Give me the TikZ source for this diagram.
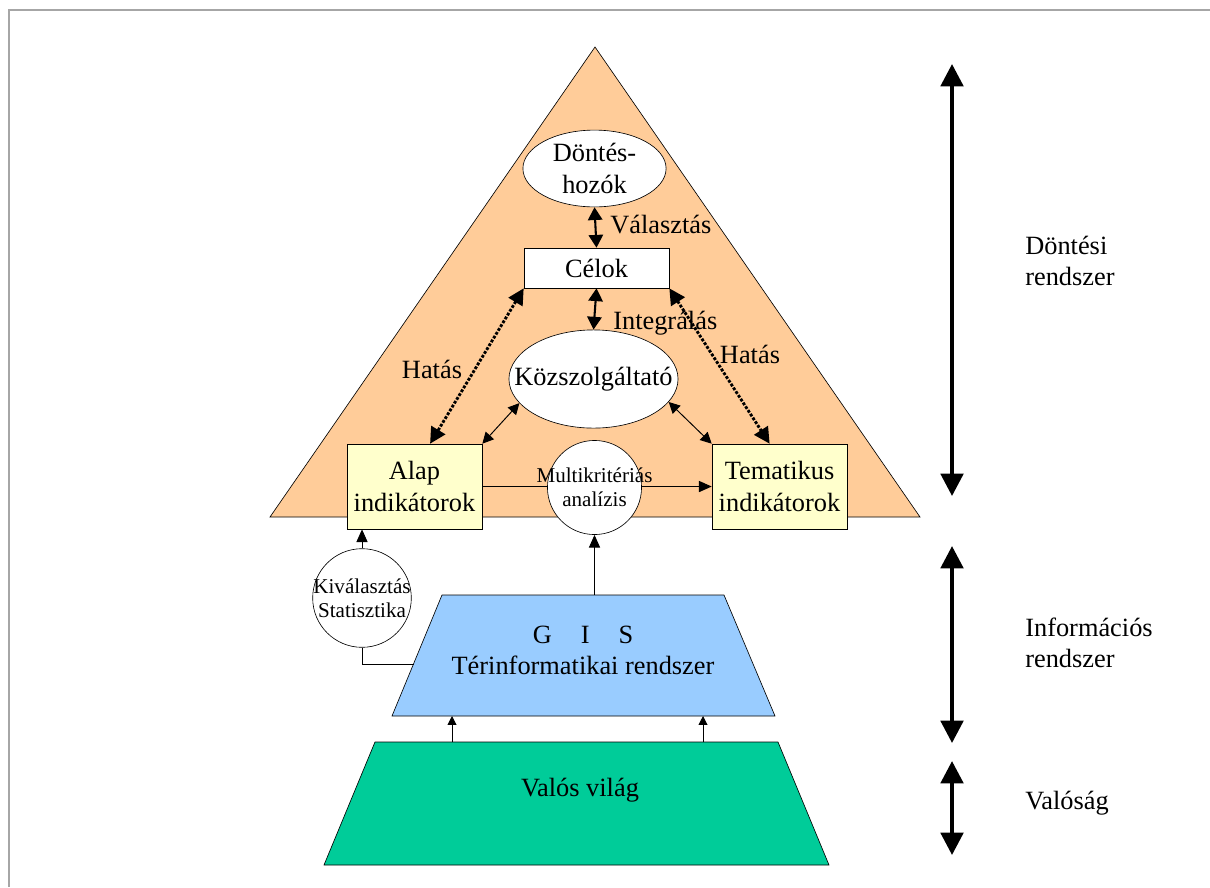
\documentclass[tikz,border=0pt]{standalone}
\usepackage{fontspec}
\setmainfont{Liberation Serif}
\usetikzlibrary{arrows.meta,shapes.geometric}
\definecolor{peach}{HTML}{FFCC99}
\definecolor{lightyellow}{HTML}{FFFFCC}
\definecolor{skyblue}{HTML}{99CCFF}
\definecolor{seagreen}{HTML}{00CC99}
\begin{document}
\begin{tikzpicture}[scale=0.22,
		every node/.style={inner sep=0pt, font=\fontsize{16.5}{19.5}\selectfont},
		smalltext/.style={font=\fontsize{13.2}{15.3}\selectfont},
		dbl/.style={{Triangle[width=9pt,length=8pt]}-{Triangle[width=9pt,length=8pt]}, line width=1.3pt},
		hatas/.style={{Triangle[width=10pt,length=10pt]}-{Triangle[width=10pt,length=10pt]}, line width=1.8pt, densely dotted},
		thin/.style={{Triangle[width=7pt,length=7pt]}-{Triangle[width=7pt,length=7pt]}, line width=0.6pt},
		up/.style={-{Triangle[width=7pt,length=8pt]}, line width=0.6pt},
		tiny/.style={-{Triangle[width=5.5pt,length=5.5pt]}, line width=0.6pt},
		thick/.style={{Triangle[width=14pt,length=14pt]}-{Triangle[width=14pt,length=14pt]}, line width=2.5pt}]
		\useasboundingbox (0,0) rectangle (121,-88.7);
		\draw [gray!70, line width=1.2pt] (0.9,-88.7) -- (0.9,-1.0) -- (121,-1.0);
		\draw [black, fill=peach] (27.0,-51.7) -- (59.5,-4.7) -- (92.0,-51.7) -- cycle;
		\node [ellipse, draw, fill=white, minimum width=3.15cm, minimum height=1.69cm, label={[align=center]center:Döntés-\\hozók}] (dontes) at (59.45,-16.85) {};
		\node [draw, fill=white, minimum width=3.19cm, minimum height=0.88cm] (celok) at (59.65,-26.8) {Célok};
		\node [ellipse, draw, fill=white, minimum width=3.72cm, minimum height=2.16cm, label={center:Közszolgáltató}] (kozszolg) at (59.35,-37.9) {};
		\node [draw, fill=lightyellow, minimum width=2.97cm, minimum height=1.87cm, align=center] (alap) at (41.45,-48.65) {Alap\\indikátorok};
		\node [draw, fill=lightyellow, minimum width=2.97cm, minimum height=1.87cm, align=center] (tema) at (77.95,-48.65) {Tematikus\\indikátorok};
		\draw [up] (alap.east) -- (tema.west);
		\node [circle, draw, fill=white, minimum size=2.07cm, label={[align=center, smalltext]center:Multikritériás\\analízis}] (multi) at (59.45,-48.75) {};
		\node [circle, draw, fill=white, minimum size=2.17cm, label={[align=center, smalltext]center:Kiválasztás\\Statisztika}] (kival) at (36.2,-59.8) {};
		\draw [dbl] (dontes.south) -- (celok.north);
		\draw (61.0,-22.5) node [anchor=west] (valasztas) {Választás};
		\draw [dbl] (celok.south) -- (kozszolg.north);
		\draw (61.3,-32.3) node [anchor=west] (integralas) {Integrálás};
		\draw [hatas] (celok.south west) -- (alap.70);
		\draw (43.2,-36.9) node (hatasbal) {Hatás};
		\draw [hatas] (celok.south east) -- (tema.103);
		\draw (75.0,-35.4) node (hatasjobb) {Hatás};
		\draw [thin] (kozszolg.198) -- (alap.north east);
		\draw [thin] (kozszolg.-17) -- (tema.north west);
		\draw [black, fill=skyblue] (44.2,-59.5) -- (72.4,-59.5) -- (77.5,-71.6) -- (39.2,-71.6) -- cycle;
		\draw (58.3,-65.05) node [align=center] (gis) {G\hspace{1.1em}I\hspace{1.1em}S\\Térinformatikai rendszer};
		\coordinate (gistop) at (59.45,-59.5);
		\coordinate (gisleft) at (41.35,-66.4);
		\draw [up] (gistop) -- (multi.south);
		\draw [up] (kival.north) -- (kival.north |- alap.south);
		\draw (kival.south) |- (gisleft);
		\draw [black, fill=seagreen] (37.5,-74.2) -- (77.8,-74.2) -- (82.9,-86.5) -- (32.4,-86.5) -- cycle;
		\draw (58.0,-79.0) node (valos) {Valós világ};
		\coordinate (valosa) at (45.2,-74.2);
		\coordinate (valosb) at (70.3,-74.2);
		\coordinate (gisa) at (45.2,-71.6);
		\coordinate (gisb) at (70.3,-71.6);
		\draw [tiny] (valosa) -- (gisa);
		\draw [tiny] (valosb) -- (gisb);
		\coordinate (d1) at (95.2,-6.4);
		\coordinate (d2) at (95.2,-49.6);
		\coordinate (i1) at (95.2,-54.6);
		\coordinate (i2) at (95.2,-74.3);
		\coordinate (v1) at (95.2,-76.1);
		\coordinate (v2) at (95.2,-85.5);
		\draw [thick] (d1) -- (d2);
		\draw [thick] (i1) -- (i2);
		\draw [thick] (v1) -- (v2);
		\draw (102.5,-26.1) node [anchor=west, align=left] (dontesi) {Döntési\\rendszer};
		\draw (102.5,-64.3) node [anchor=west, align=left] (informacios) {Információs\\rendszer};
		\draw (102.5,-80.3) node [anchor=west] (valosag) {Valóság};
	\end{tikzpicture}
\end{document}
